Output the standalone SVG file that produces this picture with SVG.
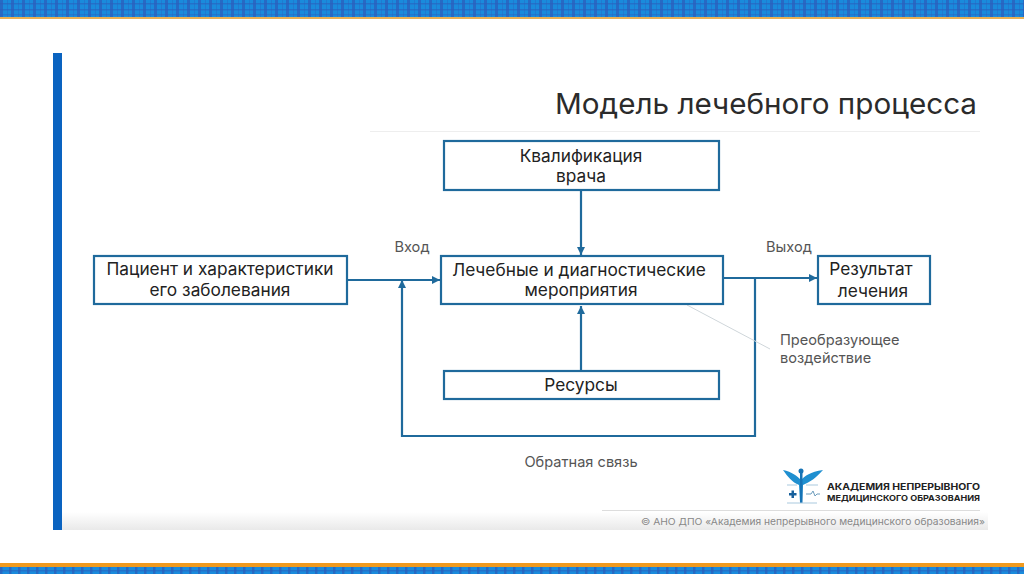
<svg xmlns="http://www.w3.org/2000/svg" width="1024" height="574" viewBox="0 0 1024 574">
<style>
.box{fill:#fff;stroke:#1f6a9c;stroke-width:2.2}
.c{fill:none;stroke:#1f6a9c;stroke-width:2.2}
text{font-family:Inter,Roboto,"Noto Sans",sans-serif;text-anchor:middle}
.n{font-size:17.300px;fill:#222}
.l{font-size:14.600px;fill:#555}
.s{text-anchor:start}
</style>
<defs>
<pattern id="plaid" width="11" height="17" patternUnits="userSpaceOnUse" x="0" y="0">
<rect width="11" height="17" fill="#1a8bdc"/>
<rect x="0" width="3" height="17" fill="#2a5fbc" opacity=".75"/>
<rect x="7" width="1" height="17" fill="#2a5fbc" opacity=".35"/>
<rect y="3" width="11" height="1.500" fill="#2a5fbc" opacity=".6"/>
<rect y="9" width="11" height="1.500" fill="#2a5fbc" opacity=".6"/>
<rect y="14" width="11" height="1.500" fill="#2a5fbc" opacity=".4"/>
</pattern>
<pattern id="plaid2" width="9" height="8" patternUnits="userSpaceOnUse" x="0" y="567">
<rect width="9" height="8" fill="#1a8bdc"/>
<rect x="0" width="2.500" height="8" fill="#2a5fbc" opacity=".75"/>
<rect y="3" width="9" height="1.500" fill="#2a5fbc" opacity=".55"/>
</pattern>
<linearGradient id="foot" x1="0" y1="0" x2="0" y2="1"><stop offset="0" stop-color="#fff"/><stop offset="1" stop-color="#e9e9e9"/></linearGradient>
<marker id="a" markerWidth="9" markerHeight="8" refX="8" refY="4" orient="auto" markerUnits="userSpaceOnUse"><path d="M0 0L8 4L0 8z" fill="#1f6a9c"/></marker>
</defs>
<rect width="1024" height="574" fill="#fff"/>
<g id="frame">
<rect width="1024" height="17" fill="url(#plaid)"/>
<rect y="17" width="1024" height="2" fill="#e8b055"/>
<rect y="563" width="1024" height="4" fill="#f09a1e"/>
<rect y="567" width="1024" height="7" fill="url(#plaid2)"/>
<rect x="62" y="512" width="926" height="18" fill="url(#foot)"/>
<rect x="53" y="53" width="9" height="477" fill="#0a63c0"/>
</g>
<g id="title">
<text x="766" y="114" style="font-size:29px;fill:#2b2b2b" textLength="422" lengthAdjust="spacingAndGlyphs">Модель лечебного процесса</text>
<rect x="370" y="131" width="610" height="1" fill="#eeeeee"/>
</g>
<g id="connectors">
<path class="c" d="M581 190V255" marker-end="url(#a)"/>
<path class="c" d="M347 280H440" marker-end="url(#a)"/>
<path class="c" d="M723 278H817" marker-end="url(#a)"/>
<path class="c" d="M581 371V306" marker-end="url(#a)"/>
<path class="c" d="M755 278V436H402V280" marker-end="url(#a)"/>
<path d="M687 305L770 349" fill="none" stroke="#cfd6da" stroke-width="1"/>
</g>
<g id="n-qual"><rect class="box" x="444" y="141" width="275" height="49"/><text class="n" x="581" y="162">Квалификация</text><text class="n" x="581" y="182">врача</text></g>
<g id="n-patient"><rect class="box" x="94" y="256" width="253" height="48"/><text class="n" x="220" y="275">Пациент и характеристики</text><text class="n" x="220" y="296">его заболевания</text></g>
<g id="n-treat"><rect class="box" x="441" y="256" width="282" height="48"/><text class="n" x="579" y="276">Лечебные и диагностические</text><text class="n" x="581" y="296">мероприятия</text></g>
<g id="n-result"><rect class="box" x="818" y="256" width="112" height="48"/><text class="n" x="871" y="275">Результат</text><text class="n" x="873" y="297">лечения</text></g>
<g id="n-res"><rect class="box" x="444" y="371" width="275" height="28"/><text class="n" x="581" y="391">Ресурсы</text></g>
<g id="labels">
<text class="l" x="412" y="252">Вход</text>
<text class="l" x="789" y="252">Выход</text>
<text class="l s" x="780" y="345">Преобразующее</text>
<text class="l s" x="780" y="363">воздействие</text>
<text class="l" x="581" y="467">Обратная связь</text>
</g>
<g id="logo">
<path d="M783 470C792 472 797 476 801 480C805 476 810 472 823 470C816 478 810 482 803 485L802 502H800L799 485C792 482 788 477 783 470Z" fill="#1f8fd0"/>
<rect x="800" y="470" width="2.500" height="33" fill="#1673b5"/>
<circle cx="801" cy="471" r="2.500" fill="#1673b5"/>
<path d="M789 493h2.500v-2.500h2.500v2.500h2.500v2.500h-2.500v2.500h-2.500v-2.500h-2.500z" fill="#17609c"/>
<path d="M787 485h10M806 485h12M787 503h30" fill="none" stroke="#a9c9de" stroke-width="1"/>
<path d="M806 494h5l2-3 2 5 2-2h3" fill="none" stroke="#6d9dbd" stroke-width="1"/>
<text x="827" y="490" style="font-size:8.500px;font-weight:700;fill:#222;text-anchor:start" textLength="153" lengthAdjust="spacingAndGlyphs">АКАДЕМИЯ НЕПРЕРЫВНОГО</text>
<text x="827" y="501" style="font-size:8.200px;font-weight:700;fill:#222;text-anchor:start" textLength="153" lengthAdjust="spacingAndGlyphs">МЕДИЦИНСКОГО ОБРАЗОВАНИЯ</text>
</g>
<g id="footer">
<rect x="602" y="510" width="378" height="1" fill="#dddddd"/>
<text x="813" y="525" style="font-size:9.300px;fill:#888" textLength="344" lengthAdjust="spacingAndGlyphs">© АНО ДПО «Академия непрерывного медицинского образования»</text>
</g>
</svg>
